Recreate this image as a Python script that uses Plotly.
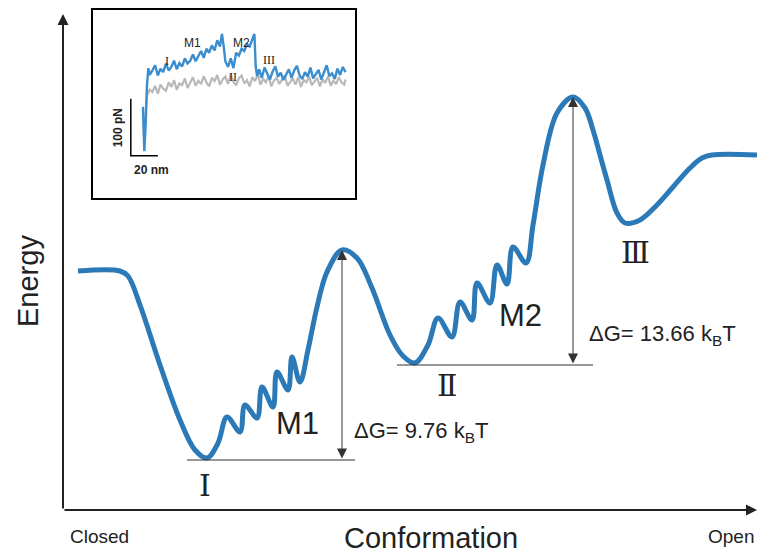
import numpy as np
import plotly.graph_objects as go

# ---------------- main schematic energy landscape (arbitrary units) ----------------
conformation = [15, 57, 65, 77, 97, 117, 132, 144, 155, 164, 177, 182, 194, 199, 210, 214, 225, 229, 237,
                245, 254, 264, 279, 294, 309, 327, 340, 352, 365, 375, 389, 397, 409, 414, 427, 434, 444,
                450, 463, 470, 480, 494, 510, 522, 530, 537, 544, 554, 562, 577, 592, 610, 627, 639, 649, 694]
energy = [239, 239, 234, 205, 145, 90, 60, 52, 67, 93, 78, 105, 92, 123, 103, 138, 120, 153, 128,
          160, 203, 238, 260, 252, 222, 175, 154, 147, 165, 192, 173, 208, 190, 227, 207, 245, 226,
          263, 247, 285, 345, 397, 413, 402, 380, 355, 330, 297, 287, 290, 303, 323, 342, 352, 355, 355]

state_labels = ["Ⅰ", "Ⅱ", "Ⅲ"]
state_x = [142, 384, 572]
state_y = [25, 125, 258]
intermediate_labels = ["M1", "M2"]
intermediate_x = [234, 457]
intermediate_y = [87, 195]
delta_g = [9.76, 13.66]

# ---------------- inset force-extension traces ----------------
ext_blue = [37, 38, 39, 40, 41, 42, 44, 46, 48, 50, 52, 54, 56, 58, 60, 62, 64, 66, 68, 70, 72, 74, 76, 78,
            80, 82, 84, 86, 88, 90, 92, 94, 95.5, 97, 98, 100, 102, 104, 106, 108, 110, 112, 114, 116, 118,
            119.5, 120.5, 121.5, 123, 125, 127, 129, 131, 133, 135, 137, 139, 141, 143, 145, 147, 149, 151,
            153, 155, 157, 159, 161, 163, 165, 167, 169, 171, 173, 175, 177, 179, 181, 183, 185, 187]
force_blue = [160, 82, 130, 200,
              228, 216, 224, 233, 215, 227, 221, 236, 224, 230, 241, 226, 237, 231, 245, 236, 241, 252, 240,
              249, 258, 246, 262, 255, 268, 259, 277, 266,
              288, 262, 240, 230, 245, 228, 255, 250, 262, 258, 270, 266, 280, 288, 230,
              214, 226, 211, 229, 219, 208, 222, 231, 213, 220, 207, 217, 226, 211, 224, 232, 215, 209, 221,
              213, 229, 210, 218, 225, 208, 221, 233, 214, 219, 209, 227, 216, 230, 221]
ext_gray = [37, 38, 39, 40, 42, 44, 46, 48, 50, 52, 54, 56, 58, 60, 62, 64, 66, 68, 70, 72, 74, 76, 78, 80,
            82, 84, 86, 88, 90, 92, 94, 96, 98, 100, 102, 104, 106, 108, 110, 112, 114, 116, 118, 120, 122,
            124, 126, 128, 130, 132, 134, 136, 138, 140, 142, 144, 146, 148, 150, 152, 154, 156, 158, 160,
            162, 164, 166, 168, 170, 172, 174, 176, 178, 180, 182, 184, 186, 187]
force_gray = [150, 95, 150, 180,
              190, 186, 197, 183, 199, 192, 188, 203, 195, 207, 190, 201, 198, 210, 193, 204, 212, 197, 206, 200,
              214, 203, 196, 211, 205, 216, 199, 208, 213, 200, 217, 204, 198, 210, 215, 201, 207, 196, 212, 205,
              218, 199, 209, 203, 214, 196, 206, 211, 200, 208, 215, 197, 204, 210, 199, 212, 195, 207, 203, 213,
              198, 205, 211, 196, 208, 202, 214, 197, 206, 200, 212, 203, 199, 208]
inset_labels = ["I", "M1", "M2", "II", "III"]
inset_label_x = [55, 74, 110, 104, 130]
inset_label_y = [240, 272, 272, 212, 242]
scale_x_nm = 20
scale_y_pN = 100

BLUE = "#2b79b7"
INK = "#222222"
SANS = "Liberation Sans, Arial, sans-serif"
SERIF = "Liberation Serif, DejaVu Serif, serif"

conf = np.array(conformation)
en = np.array(energy)
well1 = en[conf < 200].min()
well2 = en[(conf > 300) & (conf < 370)].min()
i_b1 = np.argmax(np.where((conf > 250) & (conf < 320), en, -1))
i_b2 = np.argmax(en)
bx1, by1 = conf[i_b1], en[i_b1]
bx2, by2 = conf[i_b2], en[i_b2]

fig = go.Figure()

fig.add_trace(go.Scatter(x=conformation, y=energy, mode="lines",
                         line=dict(color=BLUE, width=5, shape="spline", smoothing=1.0),
                         hoverinfo="skip", showlegend=False))

# inset traces
fig.add_trace(go.Scatter(x=ext_gray, y=force_gray, mode="lines", xaxis="x2", yaxis="y2",
                         line=dict(color="#b9b9b9", width=2.2), showlegend=False, hoverinfo="skip"))
fig.add_trace(go.Scatter(x=ext_blue, y=force_blue, mode="lines", xaxis="x2", yaxis="y2",
                         line=dict(color="#3a8dcf", width=2.4), showlegend=False, hoverinfo="skip"))
# scale bar
sb_x0, sb_y0 = 28, 74
fig.add_trace(go.Scatter(x=[sb_x0, sb_x0, sb_x0 + scale_x_nm], y=[sb_y0 + scale_y_pN, sb_y0, sb_y0],
                         mode="lines", xaxis="x2", yaxis="y2",
                         line=dict(color="black", width=1.5), showlegend=False, hoverinfo="skip"))

shapes = [
    dict(type="line", xref="x", yref="y", x0=124, x1=292, y0=well1 - 2, y1=well1 - 2,
         line=dict(color="#333333", width=1.2)),
    dict(type="line", xref="x", yref="y", x0=334, x1=530, y0=well2 - 2, y1=well2 - 2,
         line=dict(color="#333333", width=1.2)),
]

ann = []
# axes arrows
ann.append(dict(x=0, y=496, ax=0, ay=0, xref="x", yref="y", axref="x", ayref="y", text="",
                showarrow=True, arrowhead=2, arrowsize=1.1, arrowwidth=2, arrowcolor=INK))
ann.append(dict(x=694, y=0, ax=0, ay=0, xref="x", yref="y", axref="x", ayref="y", text="",
                showarrow=True, arrowhead=2, arrowsize=1.1, arrowwidth=2, arrowcolor=INK))
# delta G arrows
for bx, by, w in [(bx1, by1, well1), (bx2, by2, well2)]:
    ann.append(dict(x=bx, y=by, ax=bx, ay=w - 2, xref="x", yref="y", axref="x", ayref="y", text="",
                    showarrow=True, arrowhead=2, arrowside="end+start", arrowsize=2,
                    arrowwidth=1, arrowcolor="#333333"))
ann.append(dict(x=289, y=78, xref="x", yref="y", xanchor="left", yanchor="middle", showarrow=False,
                text=f"ΔG= {delta_g[0]:.2f} k<sub>B</sub>T", font=dict(family=SANS, size=22, color=INK)))
ann.append(dict(x=524, y=175, xref="x", yref="y", xanchor="left", yanchor="middle", showarrow=False,
                text=f"ΔG= {delta_g[1]:.2f} k<sub>B</sub>T", font=dict(family=SANS, size=22, color=INK)))
for t, x, y in zip(state_labels, state_x, state_y):
    ann.append(dict(x=x, y=y, xref="x", yref="y", text=t, showarrow=False,
                    font=dict(family=SERIF, size=30, color=INK)))
for t, x, y in zip(intermediate_labels, intermediate_x, intermediate_y):
    ann.append(dict(x=x, y=y, xref="x", yref="y", text=t, showarrow=False,
                    font=dict(family=SANS, size=31, color=INK)))
ann.append(dict(x=-35, y=229, xref="x", yref="y", text="Energy", textangle=-90, showarrow=False,
                font=dict(family=SANS, size=29, color=INK)))
ann.append(dict(x=368, y=-28, xref="x", yref="y", text="Conformation", showarrow=False,
                font=dict(family=SANS, size=29, color=INK)))
ann.append(dict(x=36, y=-26, xref="x", yref="y", text="Closed", showarrow=False,
                font=dict(family=SANS, size=19, color=INK)))
ann.append(dict(x=668, y=-26, xref="x", yref="y", text="Open", showarrow=False,
                font=dict(family=SANS, size=19, color=INK)))
# inset labels
for t, x, y in zip(inset_labels, inset_label_x, inset_label_y):
    fam = SANS if t.startswith("M") else SERIF
    ann.append(dict(x=x, y=y, xref="x2", yref="y2", text=t, showarrow=False,
                    font=dict(family=fam, size=12, color=INK)))
ann.append(dict(x=18.5, y=124, xref="x2", yref="y2", text="<b>100 pN</b>", textangle=-90, showarrow=False,
                font=dict(family=SANS, size=12, color=INK)))
ann.append(dict(x=43, y=49, xref="x2", yref="y2", text="<b>20 nm</b>", showarrow=False,
                font=dict(family=SANS, size=12, color=INK)))

fig.update_layout(
    width=757, height=553,
    margin=dict(l=0, r=0, t=0, b=0),
    paper_bgcolor="white", plot_bgcolor="white",
    xaxis=dict(range=[-63, 694], visible=False, domain=[0, 1]),
    yaxis=dict(range=[-43, 510], visible=False, domain=[0, 1]),
    xaxis2=dict(domain=[93 / 757, 355 / 757], anchor="y2", range=[0, 194], showline=True, mirror=True,
                linecolor="black", linewidth=2, showgrid=False, zeroline=False, ticks="",
                showticklabels=False),
    yaxis2=dict(domain=[1 - 198 / 553, 1 - 10 / 553], anchor="x2", range=[0, 330], showline=True,
                mirror=True, linecolor="black", linewidth=2, showgrid=False, zeroline=False, ticks="",
                showticklabels=False),
    shapes=shapes,
    annotations=ann,
    showlegend=False,
)

fig.write_html("out.html", config={"displayModeBar": False},
               post_script="document.body.style.margin='0';")
